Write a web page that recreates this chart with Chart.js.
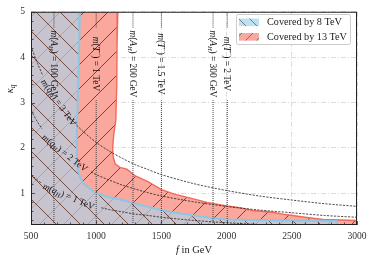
<!DOCTYPE html>
<html>
<head>
<meta charset="utf-8">
<script src="https://cdn.jsdelivr.net/npm/chart.js@4.4.0/dist/chart.umd.min.js"></script>
<style>
  html, body { margin: 0; padding: 0; background: #fff; }
</style>
</head>
<body>
<canvas id="chart" width="374" height="261"></canvas>
<script>
// axis ticks
const xTicks = [500, 1000, 1500, 2000, 2500, 3000];
const yTicks = [1, 2, 3, 4, 5];

// region covered by 8 TeV searches (boundary, f in GeV vs kappa_q)
const f8 = [500, 875, 870, 858, 852, 852, 860, 875, 905, 952, 1000, 1100, 1200, 1300, 1400, 1500, 1600, 1700, 1800, 1900, 2000, 2200, 2500, 2840, 2845];
const k8 = [5, 5, 4.3, 3.0, 2.4, 1.7, 1.5, 1.36, 1.2, 1.1, 1.0, 0.91, 0.85, 0.77, 0.70, 0.63, 0.57, 0.53, 0.49, 0.45, 0.42, 0.41, 0.40, 0.39, 0.3];

// region covered by 13 TeV searches
const f13 = [500, 1166, 1160, 1158, 1150, 1135, 1126, 1130, 1145, 1181, 1235, 1300, 1400, 1500, 1600, 1700, 1850, 2000, 2100, 2200, 2350, 2450, 2600, 2740, 3000];
const k13 = [5, 5, 4.3, 3.4, 2.6, 2.3, 2.0, 1.8, 1.65, 1.57, 1.53, 1.38, 1.25, 1.08, 0.98, 0.91, 0.80, 0.72, 0.68, 0.62, 0.58, 0.53, 0.47, 0.42, 0.40];

// m(q_H) contours (null = gap under the inline label)
const fQ3 = [500, 550, 590, 700, 850, 900, 1000, 1100, 1200, 1300, 1400, 1500, 1750, 2000, 2250, 2500, 2750, 3000];
const kQ3 = [4.24, 3.86, 3.60, null, 2.50, 2.36, 2.12, 1.93, 1.77, 1.63, 1.52, 1.41, 1.21, 1.06, 0.94, 0.85, 0.77, 0.71];
const fQ2 = [500, 550, 585, 700, 960, 1000, 1100, 1200, 1300, 1400, 1500, 1750, 2000, 2250, 2500, 2750, 3000];
const kQ2 = [2.83, 2.57, 2.42, null, 1.47, 1.41, 1.29, 1.18, 1.09, 1.01, 0.94, 0.81, 0.71, 0.63, 0.57, 0.51, 0.47];
const fQ1 = [500, 550, 580, 800, 1040, 1100, 1200, 1300, 1400, 1500, 1750, 2000, 2250, 2360];
const kQ1 = [1.41, 1.29, 1.22, null, 0.68, 0.64, 0.59, 0.54, 0.51, 0.47, 0.40, 0.35, 0.31, 0.30];

// vertical mass lines m(A_H), m(T-)
const vLineF = [676, 1000, 1282, 1500, 1896, 2005];
const vLineText = [
  [['m','i'],['(',''],['A','i'],['H','sub'],[') = 100 GeV','']],
  [['m','i'],['(',''],['T','i'],['\u2212','sup'],[') = 1 TeV','']],
  [['m','i'],['(',''],['A','i'],['H','sub'],[') = 200 GeV','']],
  [['m','i'],['(',''],['T','i'],['\u2212','sup'],[') = 1.5 TeV','']],
  [['m','i'],['(',''],['A','i'],['H','sub'],[') = 300 GeV','']],
  [['m','i'],['(',''],['T','i'],['\u2212','sup'],[') = 2 TeV','']]
];

// inline labels on the m(q_H) contours
const qLabelF = [714, 760, 790];
const qLabelK = [3.0, 1.89, 0.93];
const qLabelAngle = [55, 38, 23];
const qLabelText = ['3', '2', '1'];

const SERIF = '"Liberation Serif", "DejaVu Serif", serif';

// tile with diagonal hatch lines: lines = [[direction, colour], ...]
function hatchPattern(bg, lines, size, lw) {
  const c = document.createElement('canvas');
  c.width = size; c.height = size;
  const g = c.getContext('2d');
  g.fillStyle = bg;
  g.fillRect(0, 0, size, size);
  g.lineWidth = lw;
  lines.forEach(([dir, col]) => {
    g.strokeStyle = col;
    g.beginPath();
    for (const k of [-size, 0, size]) {
      if (dir === '/') { g.moveTo(k - 1, size + 1); g.lineTo(k + size + 1, -1); }
      else { g.moveTo(k - 1, -1); g.lineTo(k + size + 1, size + 1); }
    }
    g.stroke();
  });
  return g.createPattern(c, 'repeat');
}

const ctx0 = document.getElementById('chart').getContext('2d');
const red13 = hatchPattern('rgb(250,168,158)', [['/', 'rgb(85,80,80)']], 24, 1);
const blue8 = hatchPattern('rgb(200,196,207)', [['\\', 'rgb(118,76,66)'], ['/', 'rgb(128,180,208)']], 24, 1);
const legRed = hatchPattern('rgb(250,168,158)', [['/', 'rgb(110,110,110)']], 11, 0.9);
const legBlue = hatchPattern('rgb(188,226,242)', [['\\', 'rgb(110,110,110)']], 11, 0.9);

const pts = (fs, ks) => fs.map((f, i) => ({x: f, y: ks[i]}));

const datasets = [];
// contours
[[fQ3, kQ3], [fQ2, kQ2], [fQ1, kQ1]].forEach(([fs, ks]) => {
  datasets.push({
    data: pts(fs, ks), borderColor: '#222', borderWidth: 0.8, borderDash: [2.2, 1.3],
    pointRadius: 0, tension: 0.3, spanGaps: false, fill: false, clip: 0
  });
});
// vertical lines, broken where the label sits
vLineF.forEach(f => {
  datasets.push({
    data: [{x: f, y: 0.3}, {x: f, y: 3.05}, {x: f, y: null}, {x: f, y: 4.65}, {x: f, y: 5}],
    borderColor: '#333', borderWidth: 0.9, borderDash: [1, 1],
    pointRadius: 0, spanGaps: false, fill: false, clip: 0
  });
});
// region edges (without the top run along kappa = 5)
datasets.push({
  data: pts(f8.slice(1), k8.slice(1)), borderColor: 'rgb(140,198,228)', borderWidth: 2,
  pointRadius: 0, tension: 0, fill: false, clip: 0
});
datasets.push({
  data: pts(f13.slice(1), k13.slice(1)), borderColor: 'rgb(244,104,90)', borderWidth: 1.4,
  pointRadius: 0, tension: 0, fill: false, clip: 0
});
// filled regions
datasets.push({
  label: 'Covered by 8 TeV', data: pts(f8, k8), backgroundColor: blue8, borderWidth: 0,
  borderColor: 'rgba(0,0,0,0)', pointRadius: 0, tension: 0, fill: 'start', clip: 0
});
datasets.push({
  label: 'Covered by 13 TeV', data: pts(f13, k13), backgroundColor: red13, borderWidth: 0,
  borderColor: 'rgba(0,0,0,0)', pointRadius: 0, tension: 0, fill: 'start', clip: 0
});

function drawRich(ctx, runs, x, y, angle, size) {
  const fontOf = st => (st === 'i' || st === 'sub' ? 'italic ' : '') + (st === 'sub' || st === 'sup' ? size * 0.7 : size) + 'px ' + SERIF;
  let w = 0;
  runs.forEach(([t, st]) => { ctx.font = fontOf(st); w += ctx.measureText(t).width; });
  ctx.save();
  ctx.translate(x, y);
  ctx.rotate(angle * Math.PI / 180);
  ctx.textBaseline = 'alphabetic';
  ctx.textAlign = 'left';
  let cx = -w / 2;
  runs.forEach(([t, st]) => {
    ctx.font = fontOf(st);
    const dy = st === 'sub' ? size * 0.22 : st === 'sup' ? -size * 0.38 : 0;
    ctx.fillText(t, cx, size * 0.33 + dy);
    cx += ctx.measureText(t).width;
  });
  ctx.restore();
}

const overlay = {
  id: 'overlay',
  afterDatasetsDraw(chart) {
    const {ctx, chartArea: a, scales: {x, y}} = chart;
    ctx.save();
    ctx.fillStyle = '#111';
    // labels on vertical lines
    vLineF.forEach((f, i) => drawRich(ctx, vLineText[i], x.getPixelForValue(f), y.getPixelForValue(3.85), 90, 9.3));
    // labels on contours
    qLabelF.forEach((f, i) => drawRich(ctx,
      [['m','i'],['(',''],['q','i'],['H','sub'],[') = ' + qLabelText[i] + ' TeV','']],
      x.getPixelForValue(f), y.getPixelForValue(qLabelK[i]), qLabelAngle[i], 9.3));

    // ticks (inward)
    ctx.strokeStyle = '#333';
    ctx.lineWidth = 0.8;
    ctx.beginPath();
    for (let v = 500; v <= 3000; v += 100) {
      const px = Math.round(x.getPixelForValue(v)) + 0.5;
      const len = v % 500 === 0 ? 4 : 2.5;
      ctx.moveTo(px, a.bottom); ctx.lineTo(px, a.bottom - len);
    }
    for (let v = 0.4; v <= 5.001; v += 0.2) {
      const py = Math.round(y.getPixelForValue(v)) + 0.5;
      const len = Math.abs(v - Math.round(v)) < 0.01 ? 4 : 2.5;
      ctx.moveTo(a.left, py); ctx.lineTo(a.left + len, py);
    }
    ctx.stroke();

    // frame
    ctx.strokeStyle = '#222';
    ctx.lineWidth = 1;
    ctx.strokeRect(a.left + 0.5, a.top + 0.5, a.right - a.left - 1, a.bottom - a.top - 1);

    // legend
    const lx = 236.5, ly = 14.5, lw = 114, lh = 30;
    ctx.fillStyle = 'rgba(255,255,255,0.85)';
    ctx.strokeStyle = '#cccccc';
    ctx.lineWidth = 1;
    ctx.beginPath();
    ctx.roundRect(lx, ly, lw, lh, 2);
    ctx.fill();
    ctx.stroke();
    const items = [[legBlue, chart.data.datasets[datasets.length - 2].label, 22.3],
                   [legRed, chart.data.datasets[datasets.length - 1].label, 36.8]];
    items.forEach(([pat, text, cy]) => {
      ctx.fillStyle = pat;
      ctx.fillRect(239, cy - 3.8, 20, 7.6);
      ctx.fillStyle = '#222';
      ctx.font = '10.2px ' + SERIF;
      ctx.textBaseline = 'middle';
      ctx.textAlign = 'left';
      ctx.fillText(text, 267, cy + 0.5);
    });

    // axis titles
    ctx.fillStyle = '#222';
    ctx.textBaseline = 'alphabetic';
    ctx.font = 'italic 10.5px ' + SERIF;
    const t1 = ctx.measureText('f').width;
    ctx.font = '10.5px ' + SERIF;
    const t2 = ctx.measureText(' in GeV').width;
    let sx = 194 - (t1 + t2) / 2;
    ctx.font = 'italic 10.5px ' + SERIF;
    ctx.fillText('f', sx, 253);
    ctx.font = '10.5px ' + SERIF;
    ctx.fillText(' in GeV', sx + t1, 253);
    drawRich(ctx, [['\u03ba','i'],['q','sub']], 9.5, 89, -90, 10.5);
    ctx.restore();
  }
};

new Chart(ctx0, {
  type: 'line',
  data: {datasets},
  options: {
    responsive: false,
    animation: false,
    devicePixelRatio: 1,
    layout: {padding: {left: 0, top: 11, right: 17, bottom: 0}},
    plugins: {legend: {display: false}, tooltip: {enabled: false}},
    scales: {
      x: {
        type: 'linear', min: 500, max: 3000,
        afterBuildTicks: s => { s.ticks = xTicks.map(v => ({value: v})); },
        afterFit: s => { s.height = 36; },
        grid: {color: '#d2d2d2', lineWidth: 0.8, drawTicks: false},
        border: {display: false, dash: [5, 2, 1, 2]},
        ticks: {padding: 6, color: '#333', font: {family: SERIF, size: 9.6}, maxRotation: 0, callback: v => String(v)}
      },
      y: {
        type: 'linear', min: 0.3, max: 5,
        afterBuildTicks: s => { s.ticks = yTicks.map(v => ({value: v})); },
        afterFit: s => { s.width = 31; },
        grid: {color: '#d2d2d2', lineWidth: 0.8, drawTicks: false},
        border: {display: false, dash: [5, 2, 1, 2]},
        ticks: {padding: 6, color: '#333', font: {family: SERIF, size: 9.6}, callback: v => String(v)}
      }
    }
  },
  plugins: [overlay]
});
</script>
</body>
</html>
